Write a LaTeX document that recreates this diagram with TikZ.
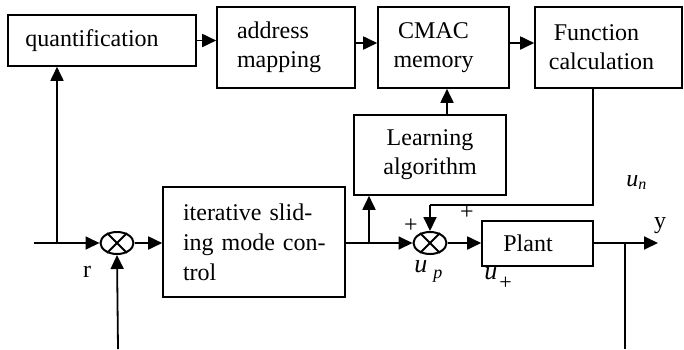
\documentclass[tikz,border=0pt]{standalone}
\usepackage{fontspec}
\setmainfont{Liberation Serif}
\usetikzlibrary{arrows.meta,shapes.geometric,calc}
\newcommand{\usb}[4]{\textit{u}\hspace{#2}\raisebox{#3}{\fontsize{#4}{#4}\selectfont #1}}
\begin{document}
\begin{tikzpicture}[x=0.5pt,y=-0.5pt,
  blk/.style={draw,line width=0.8pt,rectangle,inner sep=0pt,font=\fontsize{12}{14.5}\selectfont},
  sum/.style={draw,line width=1pt,ellipse,minimum width=16.5pt,minimum height=11pt,inner sep=0pt},
  arr/.style={line width=0.9pt,-{Triangle[length=7pt,width=6.5pt]}},
  ln/.style={line width=0.9pt},
  lbl/.style={font=\fontsize{12}{14}\selectfont,inner sep=0pt}]
\useasboundingbox (0,0) rectangle (684,349);
% blocks
\node[blk,minimum width=94pt,minimum height=25.5pt] (quant) at (102,40.5) {quantification\hspace*{10pt}};
\node[blk,minimum width=69pt,minimum height=40.5pt,align=left,text width=49pt,inner xsep=10pt] (addr) at (286,47.5) {address\\mapping};
\node[blk,minimum width=65.5pt,minimum height=40.5pt,align=center] (cmac) at (443.5,47.5) {CMAC\hspace*{10pt}\\memory\hspace*{10pt}};
\node[blk,minimum width=73.5pt,minimum height=40.5pt,align=center] (func) at (608.5,47.5) {Function\hspace*{12pt}\\calculation\hspace*{7pt}};
\node[blk,minimum width=76pt,minimum height=40pt,align=center] (learn) at (430,155) {Learning\\algorithm};
\node[blk,minimum width=91pt,minimum height=55pt,align=left,text width=85pt,inner xsep=3pt,font=\fontsize{12}{15}\selectfont] (ismc) at (254,242) {\hspace*{7pt}iterative slid-\\\hspace*{7pt}ing mode con-\\\hspace*{7pt}trol};
\node[blk,minimum width=55.5pt,minimum height=22.5pt] (plant) at (537.5,243.5) {Plant\hspace*{9.5pt}};
% summing junctions
\node[sum] (s1) at (117,243) {};
\node[sum] (s2) at (430,243) {};
\foreach \s in {s1,s2}{
  \draw[line width=1pt] (\s.45) -- (\s.225);
  \draw[line width=1pt] (\s.135) -- (\s.315);
}
% coordinates
\coordinate (in) at (34,243);
\coordinate (b1) at (57,243);
\coordinate (b2) at (369,243);
\coordinate (b3) at (625,243);
\coordinate (out) at (658,243);
\coordinate (fb1) at (625,349);
\coordinate (fb2) at (118,349);
\coordinate (c1) at (593,205);
\coordinate (c2) at (430,205);
% top chain
\draw[arr] (quant.east) -- (quant.east -| addr.west);
\draw[arr] ([yshift=2.25pt]addr.east) -- ([yshift=2.25pt]cmac.west);
\draw[arr] ([yshift=2.25pt]cmac.east) -- ([yshift=2.25pt]func.west);
\draw[arr] ($(learn.north)+(17,0)$) -- ($(learn.north |- cmac.south)+(17,0)$);
% main path
\draw[arr] (in) -- (s1.west);
\draw[arr] (b1) -- (b1 |- quant.south);
\draw[arr] (s1.east) -- (ismc.west |- s1.east);
\draw[arr] (ismc.east |- s2.west) -- (s2.west);
\draw[arr] (b2) -- (b2 |- learn.south);
\draw[arr] (s2.east) -- (plant.west |- s2.east);
\draw[ln] (plant.east |- out) -- (b3);
\draw[arr] (b3) -- (out);
\draw[ln] (b3) -- (fb1);
\draw[arr] (fb2) -- (s1.south);
\draw[ln] (c1 |- func.south) -- (c1) -- (c2);
\draw[arr] (c2) -- (s2.north);
% labels
\node[lbl] at (87,272) {r};
\node[lbl] at (660,226) {y};
\node[lbl] at (411,226) {+};
\node[lbl] at (467,213) {+};
\node[lbl,anchor=base west,font=\fontsize{13}{14}\selectfont] at (414,272) {\usb{\textit{p}}{3pt}{-3pt}{9}};
\node[lbl,anchor=base west,font=\fontsize{13}{14}\selectfont] at (484,279) {\usb{+}{1pt}{-5pt}{11}};
\node[lbl,anchor=base west] at (626,186) {\usb{\textit{n}}{0pt}{-1.5pt}{8}};
\end{tikzpicture}
\end{document}
